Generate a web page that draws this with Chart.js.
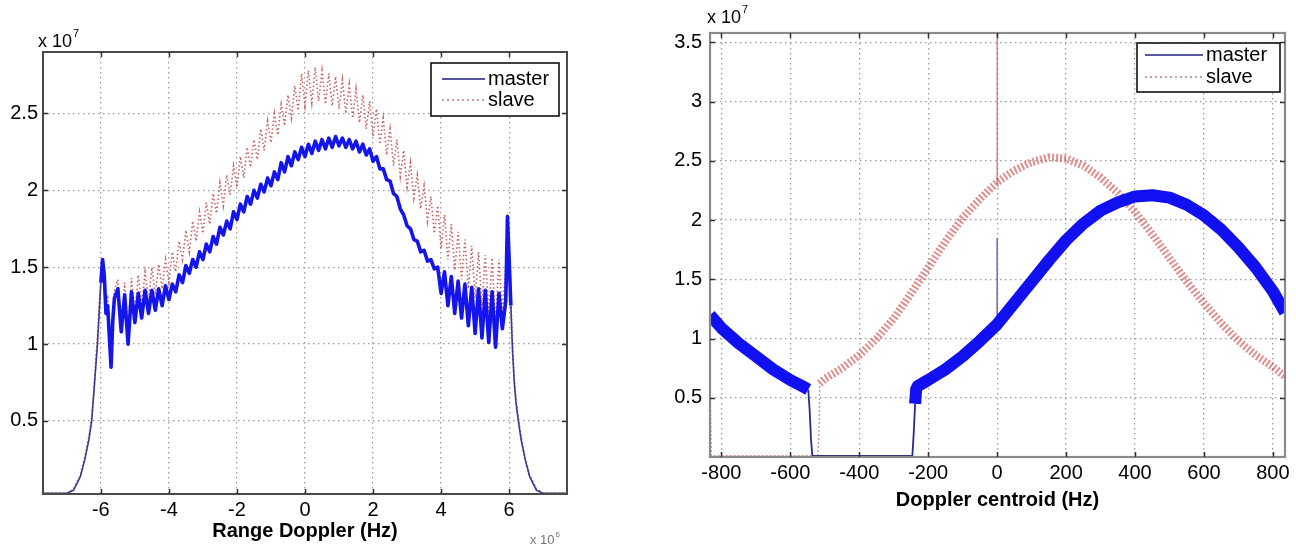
<!DOCTYPE html>
<html><head><meta charset="utf-8">
<script src="https://cdn.jsdelivr.net/npm/chart.js@4/dist/chart.umd.min.js"></script>
<style>
html,body{margin:0;padding:0;background:#fff;width:1296px;height:550px;overflow:hidden}
canvas{position:absolute;top:0}
#c1{left:0}#c2{left:640px}
</style></head>
<body>
<canvas id="c1" width="640" height="550"></canvas>
<canvas id="c2" width="656" height="550"></canvas>
<script>
// ---------- Left chart: Range Doppler (x in 1e6 Hz, y in 1e7) ----------
const rangeX = [-7.7,-7.0,-6.8,-6.6,-6.47,-6.35,-6.27,-6.2,-6.15,-6.1,-6.05,-6.0,-5.95,-5.9,-5.85,-5.8,-5.75,-5.7,-5.65,-5.6,
-5.5,-5.4,-5.3,-5.2,-5.1,-5.0,-4.9,-4.8,-4.7,-4.6,-4.5,-4.4,-4.3,-4.2,-4.1,-4.0,-3.9,-3.8,-3.7,-3.6,-3.5,-3.4,-3.3,-3.2,-3.1,-3.0,
-2.9,-2.8,-2.7,-2.6,-2.5,-2.4,-2.3,-2.2,-2.1,-2.0,-1.9,-1.8,-1.7,-1.6,-1.5,-1.4,-1.3,-1.2,-1.1,-1.0,-0.9,-0.8,-0.7,-0.6,-0.5,-0.4,
-0.3,-0.2,-0.1,0.0,0.1,0.2,0.3,0.4,0.5,0.6,0.7,0.8,0.9,1.0,1.1,1.2,1.3,1.4,1.5,1.6,1.7,1.8,1.9,2.0,2.1,2.2,2.3,2.4,2.5,2.6,2.7,2.8,
2.9,3.0,3.1,3.2,3.3,3.4,3.5,3.6,3.7,3.8,3.9,4.0,4.1,4.2,4.3,4.4,4.5,4.6,4.7,4.8,4.9,5.0,5.1,5.2,5.3,5.4,5.5,5.6,5.7,5.8,5.9,
5.95,6.0,6.05,6.1,6.15,6.2,6.27,6.35,6.47,6.6,6.8,7.0,7.7];
const rangeMaster = [0.03,0.03,0.05,0.14,0.25,0.38,0.5,0.7,0.85,1.0,1.2,1.4,1.55,1.45,1.2,1.25,1.05,0.85,1.15,1.3,
1.36,1.08,1.32,1.0,1.34,1.14,1.33,1.17,1.35,1.2,1.35,1.22,1.36,1.25,1.38,1.29,
1.39,1.34,1.45,1.40,1.51,1.46,1.55,1.50,1.60,1.55,1.65,1.60,1.70,1.65,1.76,1.71,1.80,1.75,1.86,1.81,
1.91,1.86,1.96,1.91,2.0,1.95,2.04,1.99,2.08,2.03,2.12,2.07,2.18,2.12,2.22,2.16,2.25,2.2,2.28,2.22,
2.3,2.24,2.32,2.26,2.33,2.27,2.34,2.28,2.35,2.29,2.34,2.28,2.33,2.27,2.32,2.25,2.3,2.23,2.27,2.19,
2.22,2.14,2.14,2.07,2.06,1.98,1.96,1.88,1.84,1.77,1.75,1.68,1.67,1.6,1.61,1.54,1.55,1.49,1.5,1.33,
1.47,1.25,1.44,1.2,1.41,1.17,1.39,1.12,1.37,1.07,1.36,1.04,1.35,1.01,1.34,0.98,1.33,1.1,1.28,
1.83,1.55,1.25,0.95,0.75,0.62,0.5,0.38,0.25,0.14,0.05,0.03,0.03];
const rangeSlave = [0.03,0.03,0.06,0.15,0.27,0.4,0.52,0.72,0.9,1.05,1.25,1.42,1.5,1.38,1.25,1.32,1.1,0.95,1.2,1.35,
1.42,1.15,1.4,1.1,1.43,1.2,1.45,1.25,1.47,1.28,1.5,1.32,1.52,1.36,1.55,1.4,
1.6,1.47,1.67,1.55,1.74,1.6,1.8,1.67,1.86,1.72,1.92,1.78,1.98,1.85,2.05,1.9,2.1,1.97,2.16,2.02,
2.22,2.08,2.28,2.15,2.33,2.2,2.4,2.26,2.45,2.31,2.5,2.36,2.56,2.42,2.62,2.47,2.68,2.52,2.76,2.55,
2.78,2.57,2.8,2.58,2.78,2.56,2.76,2.55,2.74,2.53,2.72,2.5,2.69,2.47,2.66,2.44,2.62,2.4,2.58,2.35,
2.53,2.3,2.47,2.23,2.4,2.16,2.33,2.09,2.26,2.02,2.18,1.95,2.1,1.88,2.03,1.8,1.96,1.72,1.9,1.62,
1.84,1.55,1.78,1.48,1.73,1.42,1.68,1.36,1.64,1.3,1.6,1.25,1.58,1.2,1.56,1.12,1.55,1.2,1.5,
1.85,1.6,1.3,1.0,0.78,0.64,0.52,0.4,0.26,0.15,0.06,0.03,0.03];
const rangeXTicks = [-6,-4,-2,0,2,4,6];
const rangeYTicks = [0.5,1,1.5,2,2.5];

// ---------- Right chart: Doppler centroid (x in Hz, y in 1e7) ----------
const dopMasterX = [-833,-800,-750,-700,-650,-600,-560,-548,-544,-540,-536,-500,-400,-300,-246,-242,-238,-235,-230,-200,
-150,-100,-50,0,50,100,150,200,250,300,350,400,450,500,550,600,650,700,750,800,835];
const dopMaster = [1.2,1.09,0.96,0.85,0.74,0.65,0.59,0.57,0.4,0.15,0.01,0.01,0.01,0.01,0.01,0.2,0.45,0.57,0.6,0.65,
0.74,0.85,0.98,1.12,1.3,1.48,1.66,1.83,1.97,2.08,2.15,2.2,2.21,2.19,2.13,2.04,1.92,1.77,1.6,1.4,1.22];
const dopSlaveX = [-833,-831,-829,-520,-516,-515,-500,-450,-400,-350,-300,-250,-200,-150,-100,-50,0,50,100,150,
200,250,300,350,400,450,500,550,600,650,700,750,800,835];
const dopSlave = [0.7,0.3,0.01,0.01,0.3,0.62,0.66,0.75,0.86,1.0,1.17,1.38,1.6,1.82,2.02,2.18,2.32,2.42,2.49,2.53,
2.52,2.46,2.36,2.23,2.07,1.88,1.68,1.48,1.3,1.13,0.98,0.86,0.76,0.68];
const dopMasterSpikeX = [0,0];
const dopMasterSpike = [1.1,1.85];
const dopSlaveSpikeX = [0,0];
const dopSlaveSpike = [3.7,2.3];
const dopXTicks = [-800,-600,-400,-200,0,200,400,600,800];
const dopYTicks = [0.5,1,1.5,2,2.5,3,3.5];

const FONT = "'Liberation Sans', Arial, sans-serif";
const pts = (xs, ys) => xs.map((x, i) => ({x: x, y: ys[i]}));

const decor = {
  id: 'decor',
  afterDraw(chart, args, o) {
    const ctx = chart.ctx, a = chart.chartArea, xs = chart.scales.x, ys = chart.scales.y;
    ctx.save();
    ctx.strokeStyle = o.frameColor; ctx.lineWidth = o.frameWidth;
    ctx.strokeRect(a.left, a.top, a.right - a.left, a.bottom - a.top);
    ctx.strokeStyle = o.tickColor; ctx.lineWidth = 1.5;
    ctx.beginPath();
    xs.ticks.forEach(t => { const p = Math.round(xs.getPixelForValue(t.value)) + 0.5;
      ctx.moveTo(p, a.bottom); ctx.lineTo(p, a.bottom - 5); ctx.moveTo(p, a.top); ctx.lineTo(p, a.top + 5); });
    ys.ticks.forEach(t => { const p = Math.round(ys.getPixelForValue(t.value)) + 0.5;
      ctx.moveTo(a.left, p); ctx.lineTo(a.left + 5, p); ctx.moveTo(a.right, p); ctx.lineTo(a.right - 5, p); });
    ctx.stroke();
    const L = o.legend;
    ctx.fillStyle = '#fff'; ctx.fillRect(L.x, L.y, L.w, L.h);
    ctx.strokeStyle = '#111'; ctx.lineWidth = 1.6; ctx.strokeRect(L.x, L.y, L.w, L.h);
    chart.data.datasets.slice(0, 2).forEach((ds, i) => {
      const ry = L.rows[i];
      ctx.strokeStyle = L.lineColors[i]; ctx.lineWidth = 2.2;
      ctx.setLineDash(L.dashes[i]);
      ctx.beginPath(); ctx.moveTo(L.x0, ry); ctx.lineTo(L.x1, ry); ctx.stroke();
      ctx.setLineDash([]);
      ctx.fillStyle = '#000'; ctx.font = '20px ' + FONT; ctx.textBaseline = 'middle'; ctx.textAlign = 'left';
      ctx.fillText(ds.label, L.tx, ry);
    });
    o.exps.forEach(e => {
      ctx.fillStyle = e.color; ctx.textAlign = 'left'; ctx.textBaseline = 'middle';
      ctx.font = e.size + 'px ' + FONT;
      ctx.fillText(e.base, e.x, e.y);
      const w = ctx.measureText(e.base).width;
      ctx.font = Math.round(e.size * 0.62) + 'px ' + FONT;
      ctx.fillText(e.sup, e.x + w + 1, e.y - e.size * 0.42);
    });
    ctx.restore();
  }
};
Chart.register(decor);

function axes(o) {
  const gridCommon = {color: '#9c9c9c', lineWidth: 1.3, drawTicks: false, borderDash: [1.5, 3.5]};
  return {
    x: {type: 'linear', min: o.xmin, max: o.xmax,
      afterBuildTicks: s => { s.ticks = o.xticks.map(v => ({value: v})); },
      afterFit: s => { s.height = o.xh; },
      ticks: {autoSkip: false, maxRotation: 0, padding: o.xpad, color: '#000', font: {family: FONT, size: 20}, callback: v => String(v)},
      grid: gridCommon, border: {display: false, dash: [1.5, 3.5]},
      title: {display: true, text: o.xtitle, color: '#000', font: {family: FONT, size: 20, weight: 'bold'}, padding: o.tpad}},
    y: {type: 'linear', min: o.ymin, max: o.ymax,
      afterBuildTicks: s => { s.ticks = o.yticks.map(v => ({value: v})); },
      afterFit: s => { s.width = o.yw; },
      ticks: {padding: o.ypad, color: '#000', font: {family: FONT, size: 20}, callback: v => String(v)},
      grid: gridCommon, border: {display: false, dash: [1.5, 3.5]}}
  };
}

new Chart(document.getElementById('c1'), {
  type: 'line',
  data: {datasets: [
    {label: 'master', data: pts(rangeX, rangeMaster), borderColor: '#1414ec', borderWidth: 3.6, borderJoinStyle: 'round', pointRadius: 0, tension: 0,
     segment: {borderColor: c => (Math.abs(c.p0.parsed.x) > 6.02 ? '#3a3a92' : undefined),
               borderWidth: c => (Math.abs(c.p0.parsed.x) > 6.02 ? 1.6 : undefined)}},
    {label: 'slave', data: pts(rangeX, rangeSlave), borderColor: 'rgba(188,70,70,0.85)', borderWidth: 1.6, borderDash: [1.5, 2.5], pointRadius: 0, tension: 0}
  ]},
  options: {
    responsive: false, animation: false, events: [],
    layout: {padding: {left: 0, top: 52, right: 73, bottom: 0}},
    plugins: {legend: {display: false}, tooltip: {enabled: false},
      decor: {frameColor: '#4a4a4a', frameWidth: 2, tickColor: '#333',
        legend: {x: 431, y: 63, w: 128, h: 53, x0: 442, x1: 485, tx: 488, rows: [79, 100],
                 lineColors: ['#55559c', 'rgba(185,150,150,0.9)'], dashes: [[], [2, 3]]},
        exps: [{base: 'x 10', sup: '7', x: 38, y: 42, size: 18, color: '#000'},
               {base: 'x 10', sup: '6', x: 530, y: 540, size: 13, color: '#777'}]}},
    scales: axes({xmin: -7.7, xmax: 7.7, xticks: rangeXTicks, xh: 56, xpad: 4, xtitle: 'Range Doppler (Hz)', tpad: 7,
                  ymin: 0.025, ymax: 2.9, yticks: rangeYTicks, yw: 43, ypad: 5})
  }
});

new Chart(document.getElementById('c2'), {
  type: 'line',
  data: {datasets: [
    {label: 'master', data: pts(dopMasterX, dopMaster), borderColor: '#1010f0', borderWidth: 12, borderJoinStyle: 'round', pointRadius: 0, tension: 0,
     segment: {borderColor: c => ((c.p0.parsed.y < 0.45 || c.p1.parsed.y < 0.45) ? '#2a2a8c' : undefined),
               borderWidth: c => ((c.p0.parsed.y < 0.45 || c.p1.parsed.y < 0.45) ? 1.8 : undefined)}},
    {label: 'slave', data: pts(dopSlaveX, dopSlave), borderColor: 'rgba(200,70,70,0.6)', borderWidth: 8, borderDash: [2, 2], pointRadius: 0, tension: 0,
     segment: {borderColor: c => ((c.p0.parsed.y < 0.45 || c.p1.parsed.y < 0.45) ? 'rgba(170,90,90,0.6)' : undefined),
               borderWidth: c => ((c.p0.parsed.y < 0.45 || c.p1.parsed.y < 0.45) ? 1.4 : undefined)}},
    {label: '', data: pts(dopMasterSpikeX, dopMasterSpike), borderColor: '#6a6aaa', borderWidth: 1.5, pointRadius: 0},
    {label: '', data: pts(dopSlaveSpikeX, dopSlaveSpike), borderColor: 'rgba(190,80,80,0.8)', borderWidth: 1.2, pointRadius: 0}
  ]},
  options: {
    responsive: false, animation: false, events: [],
    layout: {padding: {left: 0, top: 33, right: 11, bottom: 0}},
    plugins: {legend: {display: false}, tooltip: {enabled: false},
      decor: {frameColor: '#8a8a8a', frameWidth: 2.2, tickColor: '#333',
        legend: {x: 497, y: 43, w: 143, h: 49, x0: 505, x1: 563, tx: 566, rows: [55, 77],
                 lineColors: ['#5a5aa2', 'rgba(190,150,150,0.9)'], dashes: [[], [2, 3]]},
        exps: [{base: 'x 10', sup: '7', x: 67, y: 18, size: 18, color: '#000'}]}},
    scales: axes({xmin: -833, xmax: 835, xticks: dopXTicks, xh: 93, xpad: 4, xtitle: 'Doppler centroid (Hz)', tpad: 38,
                  ymin: 0, ymax: 3.58, yticks: dopYTicks, yw: 70, ypad: 8})
  }
});
</script>
</body></html>
